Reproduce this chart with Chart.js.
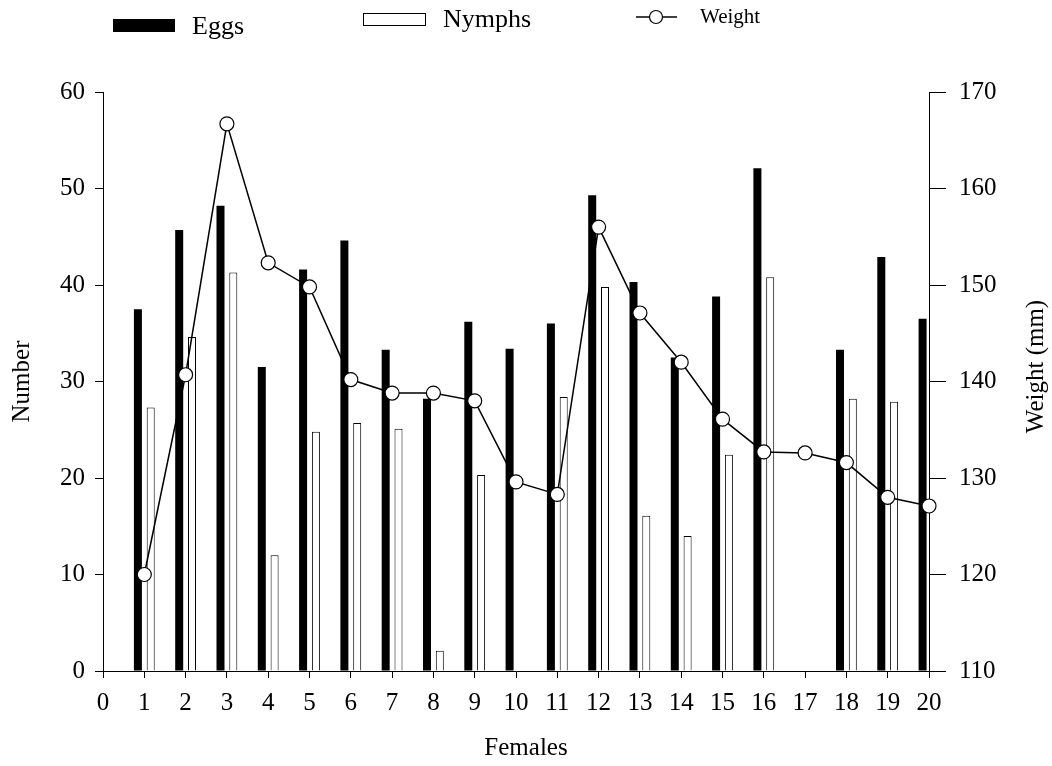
<!DOCTYPE html>
<html>
<head>
<meta charset="utf-8">
<script src="https://cdn.jsdelivr.net/npm/chart.js@4/dist/chart.umd.min.js"></script>
<style>
  html, body { margin: 0; padding: 0; background: #fff; }
  #c { display: block; }
</style>
</head>
<body>
<canvas id="c" width="1052" height="766"></canvas>
<script>
// ---- data ----
const females = [1,2,3,4,5,6,7,8,9,10,11,12,13,14,15,16,17,18,19,20];
const eggs    = [37.5,45.7,48.2,31.5,41.6,44.6,33.3,28.2,36.2,33.4,36.0,49.3,40.3,32.5,38.8,52.1,0,33.3,42.9,36.5];
const nymphs  = [27.3,34.6,41.3,12.0,24.8,25.7,25.1,2.1,20.3,0,28.4,39.8,16.1,14.0,22.4,40.8,0,28.2,27.9,0];
const weight  = [120.0,140.7,166.7,152.3,149.8,140.2,138.8,138.8,138.0,129.6,128.3,156.0,147.1,142.0,136.1,132.7,132.6,131.6,128.0,127.1];
const leftTicks  = {min: 0, max: 60, step: 10};
const rightTicks = {min: 110, max: 170, step: 10};
const xTicks     = {min: 0, max: 20, step: 1};
const labels = {eggs: 'Eggs', nymphs: 'Nymphs', weight: 'Weight', x: 'Females', y: 'Number', y2: 'Weight (mm)'};

const FONT = '"Liberation Serif", "Times New Roman", serif';
const toXY = (arr) => females.map((f, i) => ({x: f, y: arr[i]}));

const overlay = {
  id: 'overlay',
  beforeDraw(chart) {
    const ctx = chart.ctx;
    ctx.save();
    ctx.fillStyle = '#fff';
    ctx.fillRect(0, 0, chart.width, chart.height);
    ctx.restore();
  },
  afterDraw(chart) {
    const ctx = chart.ctx;
    const a = chart.chartArea;
    ctx.save();
    ctx.fillStyle = '#000';
    ctx.strokeStyle = '#000';
    // axis titles
    ctx.font = '25px ' + FONT;
    ctx.textAlign = 'center';
    ctx.textBaseline = 'middle';
    ctx.fillText(labels.x, (a.left + a.right) / 2 + 10, 748);
    ctx.save();
    ctx.translate(22, (a.top + a.bottom) / 2);
    ctx.rotate(-Math.PI / 2);
    ctx.fillText(labels.y, 0, 0);
    ctx.restore();
    ctx.save();
    ctx.translate(1036, (a.top + a.bottom) / 2 - 15);
    ctx.rotate(-Math.PI / 2);
    ctx.fillText(labels.y2, 0, 0);
    ctx.restore();
    // legend
    ctx.textAlign = 'left';
    ctx.font = '26px ' + FONT;
    ctx.fillRect(113, 19, 62, 13);
    ctx.fillText(labels.eggs, 192, 27);
    ctx.lineWidth = 1;
    ctx.strokeRect(363.5, 13.5, 62, 12);
    ctx.fillText(labels.nymphs, 443, 20);
    ctx.lineWidth = 1.5;
    ctx.beginPath();
    ctx.moveTo(636, 17); ctx.lineTo(677, 17);
    ctx.stroke();
    ctx.beginPath();
    ctx.fillStyle = '#fff';
    ctx.arc(656, 17, 6.5, 0, Math.PI * 2);
    ctx.fill();
    ctx.lineWidth = 1.2;
    ctx.stroke();
    ctx.fillStyle = '#000';
    ctx.font = '21px ' + FONT;
    ctx.fillText(labels.weight, 700, 17);
    ctx.restore();
  }
};

new Chart(document.getElementById('c'), {
  type: 'bar',
  data: {
    datasets: [
      {
        type: 'line', label: labels.weight, data: toXY(weight), yAxisID: 'y2', xAxisID: 'x',
        borderColor: '#000', borderWidth: 1.5, tension: 0, clip: false,
        pointRadius: 7, pointBackgroundColor: '#fff', pointBorderColor: '#000', pointBorderWidth: 1.2,
        order: 0
      },
      {
        label: labels.eggs, data: toXY(eggs), yAxisID: 'y', xAxisID: 'x',
        backgroundColor: '#000', borderWidth: 0,
        categoryPercentage: 0.62, barPercentage: 0.625, order: 1
      },
      {
        label: labels.nymphs, data: toXY(nymphs), yAxisID: 'y', xAxisID: 'x',
        backgroundColor: '#fff', borderColor: '#000', borderWidth: 1, borderSkipped: 'start',
        categoryPercentage: 0.62, barPercentage: 0.625, order: 2
      }
    ]
  },
  options: {
    responsive: false,
    animation: false,
    events: [],
    layout: { padding: { top: 92, left: 0, right: 0, bottom: 0 } },
    plugins: { legend: { display: false }, tooltip: { enabled: false }, title: { display: false } },
    scales: {
      x: {
        type: 'linear', position: 'bottom', offset: false,
        min: xTicks.min, max: xTicks.max,
        grid: { display: true, drawOnChartArea: false, drawTicks: true, tickLength: 7, color: '#000', offset: false, lineWidth: 1 },
        border: { display: true, color: '#000', width: 1 },
        ticks: { stepSize: xTicks.step, autoSkip: false, maxRotation: 0, color: '#000', padding: 10, font: { family: FONT, size: 25 } },
        afterFit(s) { s.height = 95; }
      },
      y: {
        type: 'linear', position: 'left',
        min: leftTicks.min, max: leftTicks.max,
        grid: { display: true, drawOnChartArea: false, drawTicks: true, tickLength: 8, color: '#000', lineWidth: 1 },
        border: { display: true, color: '#000', width: 1 },
        ticks: { stepSize: leftTicks.step, color: '#000', padding: 10, font: { family: FONT, size: 25 } },
        afterFit(s) { s.width = 103; }
      },
      y2: {
        type: 'linear', position: 'right',
        min: rightTicks.min, max: rightTicks.max,
        grid: { display: true, drawOnChartArea: false, drawTicks: true, tickLength: 17, color: '#000', lineWidth: 1 },
        border: { display: true, color: '#000', width: 1 },
        ticks: { stepSize: rightTicks.step, color: '#000', padding: 13, font: { family: FONT, size: 25 } },
        afterFit(s) { s.width = 123; }
      }
    }
  },
  plugins: [overlay]
});
</script>
</body>
</html>
